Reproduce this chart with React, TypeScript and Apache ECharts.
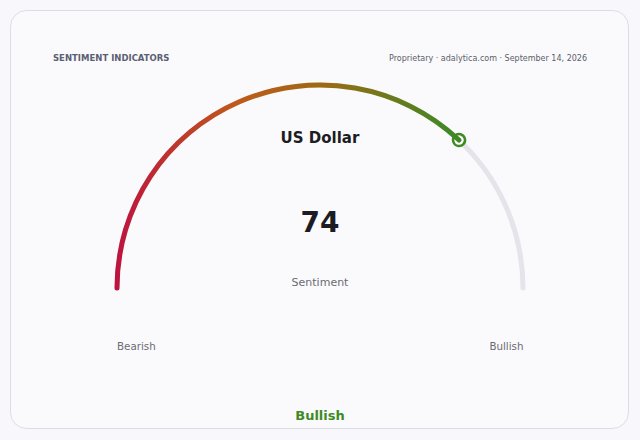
import React, { useEffect, useRef } from 'react'
import * as echarts from 'echarts'

// gauge data
const assetName = 'US Dollar'
const sentimentValue = 74
const scaleMin = 0
const scaleMax = 100
const scaleEndLabels = ['Bearish', 'Bullish']
const statusLabel = 'Bullish'
const statusColor = '#3f8a24'

const headerLeft = 'SENTIMENT INDICATORS'
const headerRight = 'Proprietary · adalytica.com · September 14, 2026'
const valueCaption = 'Sentiment'

const FONT = '"DejaVu Sans", sans-serif'

const App: React.FC = () => {
  const chartRef = useRef<HTMLDivElement>(null)

  useEffect(() => {
    if (!chartRef.current) return
    const chart = echarts.init(chartRef.current, undefined, { renderer: 'svg' })

    const cx = 320
    const cy = 288
    const outerR = 205.5
    const lineW = 5
    const midR = outerR - lineW / 2
    const dotSize = 12

    const progressGradient = new echarts.graphic.LinearGradient(
      cx - midR, 0, cx + midR * 0.69, 0,
      [
        { offset: 0, color: '#bd143f' },
        { offset: 0.35, color: '#bf5a1a' },
        { offset: 0.6, color: '#9c6a12' },
        { offset: 1, color: '#3a8a26' }
      ],
      true
    )

    const option: echarts.EChartsOption = {
      animation: false,
      backgroundColor: '#f8f8fc',
      textStyle: { fontFamily: FONT },
      graphic: [
        {
          type: 'rect',
          z: -10,
          shape: { x: 10.5, y: 10.5, width: 618, height: 418, r: 16 },
          style: { fill: '#fafafd', stroke: '#dcdce5', lineWidth: 1 }
        },
        {
          type: 'text',
          x: 53,
          y: 58,
          style: {
            text: headerLeft,
            font: `bold 8.5px ${FONT}`,
            fill: '#5b5f72',
            textAlign: 'left',
            textVerticalAlign: 'middle'
          }
        },
        {
          type: 'text',
          x: 587,
          y: 58,
          style: {
            text: headerRight,
            font: `8px ${FONT}`,
            fill: '#5a5e6a',
            textAlign: 'right',
            textVerticalAlign: 'middle'
          }
        },
        {
          type: 'text',
          x: cx,
          y: 282,
          style: {
            text: valueCaption,
            font: `11px ${FONT}`,
            fill: '#6a6a72',
            textAlign: 'center',
            textVerticalAlign: 'middle'
          }
        },
        {
          type: 'text',
          x: cx - midR,
          y: 346,
          style: {
            text: scaleEndLabels[0],
            font: `10.3px ${FONT}`,
            fill: '#6a6a72',
            textAlign: 'left',
            textVerticalAlign: 'middle'
          }
        },
        {
          type: 'text',
          x: cx + midR + 0.5,
          y: 346,
          style: {
            text: scaleEndLabels[1],
            font: `10.3px ${FONT}`,
            fill: '#6a6a72',
            textAlign: 'right',
            textVerticalAlign: 'middle'
          }
        },
        {
          type: 'text',
          x: cx,
          y: 415,
          style: {
            text: statusLabel,
            font: `bold 13px ${FONT}`,
            fill: statusColor,
            textAlign: 'center',
            textVerticalAlign: 'middle'
          }
        }
      ],
      series: [
        {
          type: 'gauge',
          center: [cx, cy],
          radius: outerR,
          startAngle: 180,
          endAngle: 0,
          min: scaleMin,
          max: scaleMax,
          axisLine: {
            roundCap: true,
            lineStyle: { width: lineW, color: [[1, '#e4e4ea']] }
          },
          progress: {
            show: true,
            width: lineW,
            roundCap: true,
            itemStyle: { color: progressGradient }
          },
          splitLine: { show: false },
          axisTick: { show: false },
          axisLabel: { show: false },
          anchor: { show: false },
          pointer: {
            show: true,
            icon: 'circle',
            length: dotSize,
            width: dotSize,
            offsetCenter: [0, -midR + dotSize / 2],
            itemStyle: { color: '#ffffff', borderColor: statusColor, borderWidth: 2.5 }
          },
          title: {
            offsetCenter: [0, 138 - cy],
            fontSize: 15,
            fontWeight: 'bold',
            color: '#1c1c22',
            fontFamily: FONT
          },
          detail: {
            offsetCenter: [0, 222 - cy],
            fontSize: 28,
            fontWeight: 'bold',
            color: '#1c1c22',
            fontFamily: FONT,
            valueAnimation: false,
            formatter: '{value}'
          },
          data: [{ value: sentimentValue, name: assetName }]
        }
      ]
    }

    chart.setOption(option)
    return () => {
      chart.dispose()
    }
  }, [])

  return (
    <div
      ref={chartRef}
      style={{ position: 'fixed', left: 0, top: 0, width: 640, height: 440 }}
    />
  )
}

export default App
